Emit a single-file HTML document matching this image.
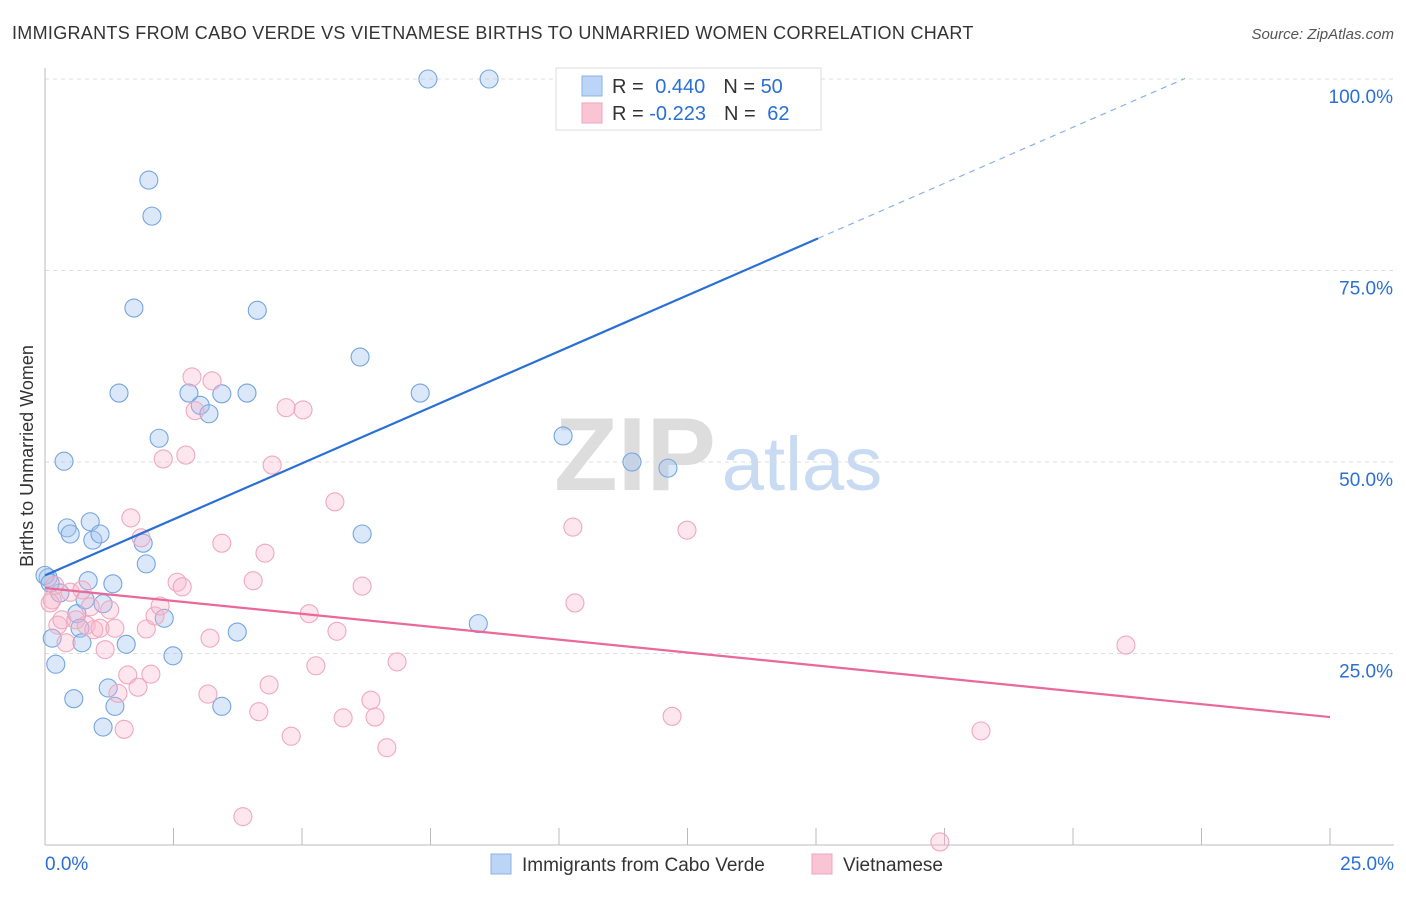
<!DOCTYPE html>
<html><head><meta charset="utf-8"><style>
body{margin:0;background:#fff;font-family:"Liberation Sans",sans-serif}
svg text{font-family:"Liberation Sans",sans-serif}
</style></head><body>
<svg id="chart" width="1406" height="892" xmlns="http://www.w3.org/2000/svg">
<text x="12" y="39" font-size="18" fill="#333" letter-spacing="0.3">IMMIGRANTS FROM CABO VERDE VS VIETNAMESE BIRTHS TO UNMARRIED WOMEN CORRELATION CHART</text>
<text x="1394" y="39" font-size="15" fill="#555" text-anchor="end" font-style="italic">Source: ZipAtlas.com</text>
<text transform="translate(33,456) rotate(-90)" font-size="18" fill="#333" text-anchor="middle">Births to Unmarried Women</text>
<g>
<text x="635" y="490" font-size="104" fill="#ddd" font-family="Liberation Serif" text-anchor="middle" font-weight="bold">ZIP</text>
<text x="802" y="490" font-size="76" fill="#c8dbf3" text-anchor="middle">atlas</text>
</g>
<g id="grid"></g><g id="axes"></g><g id="pts"></g><g id="lines"></g>
<g>
<rect x="556" y="68" width="265" height="62" fill="#fff" stroke="#ddd"/>
<rect x="582" y="76" width="20" height="20" fill="#bcd4f6" stroke="#8ab2e8"/>
<rect x="582" y="103" width="20" height="20" fill="#f9c5d5" stroke="#efa5bd"/>
<text x="612" y="93" font-size="20" fill="#333">R = <tspan fill="#2a6fd6" dx="6">0.440</tspan><tspan fill="#333" dx="18">N = </tspan><tspan fill="#2a6fd6">50</tspan></text>
<text x="612" y="120" font-size="20" fill="#333">R = <tspan fill="#2a6fd6">-0.223</tspan><tspan fill="#333" dx="18">N = </tspan><tspan fill="#2a6fd6" dx="6">62</tspan></text>
</g>
<g>
<rect x="491" y="854" width="20" height="20" fill="#bcd4f6" stroke="#8ab2e8"/>
<text x="522" y="871" font-size="19" fill="#333">Immigrants from Cabo Verde</text>
<rect x="812" y="854" width="20" height="20" fill="#f9c5d5" stroke="#efa5bd"/>
<text x="843" y="871" font-size="19" fill="#333">Vietnamese</text>
</g>
</svg>
<script>
const blueX=[0.06,0.14,0.21,0.29,0.37,0.43,0.49,0.56,0.62,0.68,0.72,0.78,0.84,0.88,0.93,1.07,1.13,1.23,1.32,1.36,1.13,1.58,1.44,1.73,1.91,1.97,2.02,2.08,2.22,2.32,2.49,2.80,3.02,3.19,3.44,3.44,3.74,3.93,4.13,6.13,6.17,7.30,7.45,8.43,8.64,10.08,11.42,12.12,0,0.10];
const blueY=[34.9,27.0,23.6,32.9,50.1,41.4,40.6,19.1,30.2,28.3,26.4,32.0,34.5,42.2,39.8,40.6,31.5,20.5,34.1,18.1,15.4,26.2,59.0,70.1,39.4,36.7,86.8,82.1,53.1,29.6,24.7,59.0,57.4,56.3,58.9,18.1,27.8,59.0,69.8,63.7,40.6,59.0,100,28.9,100,53.4,50.0,49.2,35.2,34.2];
const pinkX=[0.14,0.19,0.25,0.33,0.41,0.49,0.60,0.72,0.80,0.88,0.95,1.07,1.17,1.26,1.36,1.42,1.54,1.61,1.67,1.81,1.87,1.97,2.06,2.14,2.24,2.30,2.57,2.67,2.74,2.86,2.92,3.17,3.21,3.25,3.44,3.85,4.05,4.16,4.28,4.36,4.42,4.69,4.79,5.02,5.14,5.27,5.68,5.80,5.64,6.17,6.34,6.42,6.65,6.85,10.27,10.31,12.20,12.49,17.41,18.21,21.03,0.10];
const pinkY=[32.0,33.9,28.7,29.4,26.4,33.0,29.4,33.3,28.7,31.1,28.1,28.3,25.5,30.7,28.3,19.8,15.1,22.2,42.7,20.6,40.1,28.2,22.3,29.9,31.2,50.4,34.3,33.7,50.9,61.1,56.7,19.7,27.0,60.6,39.4,3.7,34.5,17.4,38.1,20.9,49.6,57.1,14.2,56.8,30.2,23.4,27.9,16.6,44.8,33.8,18.9,16.7,12.7,23.9,41.5,31.6,16.8,41.1,0.4,14.9,26.1,31.6];
const yTicks=[25,50,75,100];
const yTickLabels=["25.0%","50.0%","75.0%","100.0%"];
const blueTrend=[35.2,2.925]; const blueSolidEnd=15.04; const blueDashEnd=22.18;
const pinkTrend=[33.55,-0.674];
const NS="http://www.w3.org/2000/svg";
const sx=v=>45+v/25*1285, sy=v=>845-v/100*766;
function mk(p,t,a){const e=document.createElementNS(NS,t);for(const k in a)e.setAttribute(k,a[k]);p.appendChild(e);return e;}
const grid=document.getElementById('grid'),axes=document.getElementById('axes'),pts=document.getElementById('pts'),lines=document.getElementById('lines');
yTicks.forEach((t,i)=>{
 const l=mk(grid,'line',{x1:45,x2:1394,y1:sy(t),y2:sy(t),stroke:'#ddd','stroke-dasharray':'4,4'});
 
 
 const tx=mk(axes,'text',{x:1393,y:sy(t)+24,'font-size':19,fill:'#2a6fd6','text-anchor':'end'});
 tx.textContent=yTickLabels[i];
 
 
});
mk(axes,'line',{x1:45,x2:45,y1:68,y2:845,stroke:'#bbb'});
mk(axes,'line',{x1:45,x2:1394,y1:845,y2:845,stroke:'#bbb'});
for(let i=0;i<=10;i++){const x=sx(i*2.5);const t=mk(axes,'line',{x1:x,x2:x,y1:828,y2:845,stroke:'#bbb'});}
const x0=mk(axes,'text',{x:45,y:870,'font-size':19,fill:'#2a6fd6'});x0.textContent='0.0%';


const x1=mk(axes,'text',{x:1394,y:870,'font-size':19,fill:'#2a6fd6','text-anchor':'end'});x1.textContent='25.0%';


function dots(X,Y,fill,stroke,name){X.forEach((x,i)=>{const c=mk(pts,'circle',{cx:sx(x),cy:sy(Y[i]),r:9,fill:fill,stroke:stroke,'stroke-width':1.1});
 
 });}
dots(blueX,blueY,'rgba(160,195,240,0.38)','#74a5e2','point-cabo-verde');
dots(pinkX,pinkY,'rgba(248,180,200,0.33)','#f0a8be','point-vietnamese');
const f=(t,x)=>t[0]+t[1]*x;
let l=mk(lines,'line',{x1:sx(0),y1:sy(f(blueTrend,0)),x2:sx(blueSolidEnd),y2:sy(f(blueTrend,blueSolidEnd)),stroke:'#2a6fd6','stroke-width':2.2});


l=mk(lines,'line',{x1:sx(blueSolidEnd),y1:sy(f(blueTrend,blueSolidEnd)),x2:sx(blueDashEnd),y2:sy(f(blueTrend,blueDashEnd)),stroke:'#8ab2e8','stroke-width':1.2,'stroke-dasharray':'6,5'});


l=mk(lines,'line',{x1:sx(0),y1:sy(f(pinkTrend,0)),x2:sx(25),y2:sy(f(pinkTrend,25)),stroke:'#e8699a','stroke-width':2.2});


</script>
</body></html>
